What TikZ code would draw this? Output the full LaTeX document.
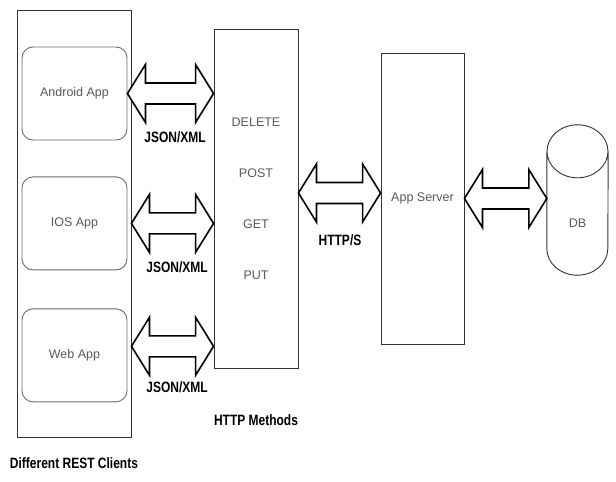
\documentclass[tikz,border=0pt]{standalone}
\usepackage{fontspec}
\setmainfont{Liberation Sans}
\newfontfamily\labelfont[FakeStretch=0.8]{Liberation Sans}
\usepackage{tikz}
\usetikzlibrary{positioning, calc}
\definecolor{boxText}{HTML}{595959}
\definecolor{appBorder}{HTML}{6B6B6B}
\definecolor{frameBorder}{HTML}{333333}

% outlined two-headed block arrow between two points (same height)
\newcommand{\dblarrow}[2]{%
  \draw[fat] let \p1=#1, \p2=#2 in
    (\x1,\y1) -- (\x1+18pt,\y1+29pt) -- (\x1+18pt,\y1+10.5pt) -- (\x2-18pt,\y1+10.5pt)
    -- (\x2-18pt,\y1+29pt) -- (\x2,\y1) -- (\x2-18pt,\y1-29pt) -- (\x2-18pt,\y1-10.5pt)
    -- (\x1+18pt,\y1-10.5pt) -- (\x1+18pt,\y1-29pt) -- cycle;}

\begin{document}
\begin{tikzpicture}[
  x=1pt, y=-1pt,
  frame/.style={rectangle, draw=frameBorder, line width=0.9pt, text=boxText, font=\fontsize{12.5}{14}\selectfont},
  app/.style={rectangle, rounded corners=11pt, draw=appBorder, line width=0.9pt, minimum width=105pt, minimum height=93pt, text=boxText, font=\fontsize{12.5}{14}\selectfont},
  fat/.style={draw=black, line width=1.6pt, line join=miter, fill=white},
  tag/.style={font=\labelfont\bfseries\fontsize{15}{18}\selectfont, inner sep=0pt}
]
  \useasboundingbox (0,0) rectangle (616,482);

  % Clients
  \node (clients) [frame, minimum width=114pt, minimum height=427pt] at (74,223.5) {};
  \node (android) [app] at (74.5,93.5) {Android App};
  \node (ios) [app, below=36pt of android] {IOS App};
  \node (web) [app, below=38pt of ios] {Web App};

  % Methods, server, database
  \node (methods) [frame, minimum width=84pt, minimum height=339pt, align=center,
    font=\fontsize{12.5}{51}\selectfont] at (256,198.5) {DELETE\\POST\\GET\\PUT};
  \node (server) [frame, minimum width=83pt, minimum height=291pt] at (422.5,198.5) {App Server};
  \node (db) [minimum width=61pt, minimum height=150pt, inner sep=0pt] at (577.5,200) {};
  \draw[draw=frameBorder, line width=0.9pt]
    ($(db.north)+(0,26.5)$) ellipse [x radius=30.5, y radius=26.5]
    ($(db.north west)+(0,26.5)$) -- ($(db.south west)+(0,-26.5)$)
    arc [start angle=180, end angle=0, x radius=30.5, y radius=26.5]
    -- ($(db.north east)+(0,26.5)$);
  \node (dbText) [text=boxText, font=\fontsize{12.5}{14}\selectfont] at ($(db.center)+(0,23)$) {DB};

  % Connectors
  \dblarrow{(android.east)}{(methods.west)}
  \dblarrow{(clients.east |- ios.east)}{(methods.west)}
  \dblarrow{($(clients.east |- web.east)+(0,-9)$)}{(methods.west)}
  \dblarrow{($(methods.east)+(0,-5.5)$)}{(server.west)}
  \dblarrow{(server.east)}{(db.west)}

  % Labels
  \node (tagA) [tag] at (175,137) {JSON/XML};
  \node (tagB) [tag] at (177,267) {JSON/XML};
  \node (tagC) [tag] at (177,387) {JSON/XML};
  \node (tagD) [tag] at (340,240) {HTTP/S};
  \node (methodsTag) [tag] at (256,420) {HTTP Methods};
  \node (clientsTag) [tag] at (74,463) {Different REST Clients};
\end{tikzpicture}
\end{document}
